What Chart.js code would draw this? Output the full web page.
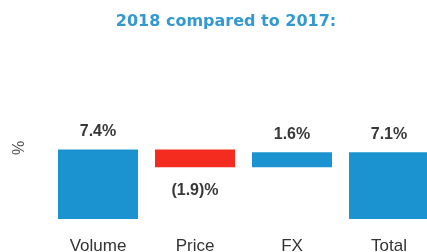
<!DOCTYPE html>
<html>
<head>
<meta charset="utf-8">
<script src="https://cdn.jsdelivr.net/npm/chart.js@4/dist/chart.umd.min.js"></script>
<style>
  html, body { margin: 0; padding: 0; background: #fff; overflow: hidden; }
  canvas { display: block; }
</style>
</head>
<body>
<canvas id="bridgeChart" width="440" height="290"></canvas>
<script>
const categories = ['Volume', 'Price', 'FX', 'Total'];
const changes = [7.4, -1.9, 1.6, 7.1];   // % change shown on each bar
const starts = [0, 7.4, 5.5, 0];         // where each bar begins (bridge)
const barColors = ['#1b93d1', '#f42b1f', '#1b93d1', '#1b93d1'];

const ranges = categories.map((_, i) => [starts[i], starts[i] + changes[i]]);

function fmt(v) {
    return v < 0 ? '(' + Math.abs(v).toFixed(1) + ')%' : v.toFixed(1) + '%';
}

// value labels above positive bars, below negative ones
const valueLabels = {
    id: 'valueLabels',
    afterDatasetsDraw(chart) {
        const ctx = chart.ctx;
        const y = chart.scales.y;
        const meta = chart.getDatasetMeta(0);
        ctx.save();
        ctx.font = 'bold 16px "Liberation Sans", Arial, sans-serif';
        ctx.fillStyle = '#383838';
        ctx.textAlign = 'center';
        ctx.textBaseline = 'middle';
        meta.data.forEach((bar, i) => {
            const r = ranges[i];
            const top = y.getPixelForValue(Math.max(r[0], r[1]));
            const bottom = y.getPixelForValue(Math.min(r[0], r[1]));
            if (changes[i] >= 0) ctx.fillText(fmt(changes[i]), bar.x, top - 17.5);
            else ctx.fillText(fmt(changes[i]), bar.x, bottom + 23);
        });
        ctx.restore();
    }
};

const ctx = document.getElementById('bridgeChart').getContext('2d');
new Chart(ctx, {
    type: 'bar',
    data: {
        labels: categories,
        datasets: [{
            data: ranges,
            backgroundColor: barColors,
            borderWidth: 0,
            borderSkipped: false,
            barPercentage: 0.825,
            categoryPercentage: 1
        }]
    },
    options: {
        responsive: false,
        animation: false,
        layout: { padding: { left: 14.5, right: 2.5, top: 0, bottom: 16.6 } },
        plugins: {
            legend: { display: false },
            tooltip: { enabled: false },
            title: {
                display: true,
                text: '2018 compared to 2017:',
                color: '#3399d2',
                font: { family: '"DejaVu Sans", sans-serif', size: 16, weight: 'bold' },
                padding: { top: 12, bottom: 45.8 }
            }
        },
        scales: {
            x: {
                grid: { display: false, drawTicks: false },
                border: { display: false },
                ticks: {
                    color: '#333',
                    padding: 17,
                    font: { family: '"Liberation Sans", Arial, sans-serif', size: 17 }
                }
            },
            y: {
                min: 0,
                max: 15.1,
                grid: { display: false, drawTicks: false },
                border: { display: false },
                ticks: { display: false },
                title: {
                    display: true,
                    text: '%',
                    color: '#555',
                    padding: { top: -4.6, bottom: 20.4 },
                    font: { family: '"Liberation Sans", Arial, sans-serif', size: 16 }
                }
            }
        }
    },
    plugins: [valueLabels]
});
</script>
</body>
</html>
